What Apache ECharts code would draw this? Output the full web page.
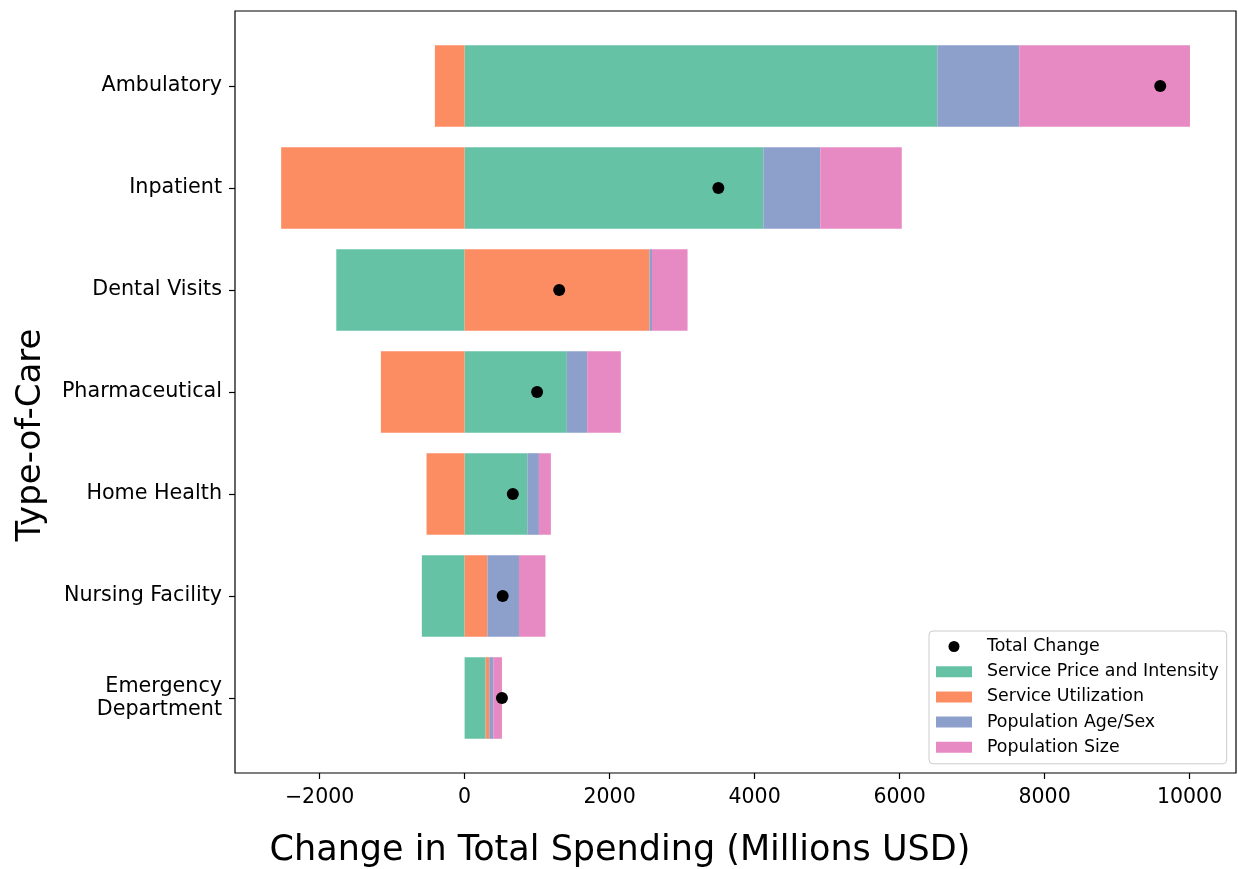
<!DOCTYPE html>
<html>
<head>
<meta charset="utf-8">
<script src="https://cdn.jsdelivr.net/npm/echarts@6/dist/echarts.min.js"></script>
<style>
  html, body { margin: 0; padding: 0; background: #fff; }
  #myChart { width: 1238px; height: 869px; }
</style>
</head>
<body>
<div id="myChart"></div>
<script>
// type-of-care rows, top to bottom
var careTypes = ['Ambulatory', 'Inpatient', 'Dental Visits', 'Pharmaceutical', 'Home Health', 'Nursing Facility', 'Emergency\nDepartment'];

// decomposition of change (millions USD)
var servicePrice = [6520, 4120, -1770, 1410, 865, -590, 290];
var serviceUtil = [-410, -2530, 2550, -1155, -525, 315, 50];
var popAgeSex = [1130, 785, 35, 280, 160, 435, 55];
var popSize = [2355, 1125, 490, 465, 165, 365, 120];
var totalChange = [9595, 3500, 1305, 1000, 665, 525, 515];

var xTicks = [-2000, 0, 2000, 4000, 6000, 8000, 10000];

var seriesNames = ['Service Price and Intensity', 'Service Utilization', 'Population Age/Sex', 'Population Size'];
var colors = ['#66c2a5', '#fc8d62', '#8da0cb', '#e78ac3'];

var font = "'DejaVu Sans', sans-serif";

var chart = echarts.init(document.getElementById('myChart'), null, { renderer: 'canvas' });

function barSeries(name, data, color) {
    return {
        name: name,
        type: 'bar',
        stack: 'total',
        xAxisIndex: 1,
        yAxisIndex: 1,
        barWidth: '80%',
        itemStyle: { color: color, opacity: 1 },
        data: data
    };
}

var scatterData = [];
for (var i = 0; i < totalChange.length; i++) {
    scatterData.push([totalChange[i], i]);
}

var option = {
    animation: false,
    backgroundColor: '#fff',
    grid: [
        // frame (spines)
        { left: 235, top: 11, width: 1001, height: 762, show: true, borderColor: '#000', borderWidth: 1.2, backgroundColor: 'transparent', outerBoundsMode: 'none' },
        // plotting area for the bars
        { left: 235, top: 35, width: 1001, height: 714, outerBoundsMode: 'none' }
    ],
    xAxis: [
        { gridIndex: 0, type: 'value', show: false, min: 0, max: 1 },
        {
            gridIndex: 1,
            type: 'value',
            min: -3167,
            max: 10640,
            offset: 24,
            axisLine: { show: false, onZero: false },
            axisTick: { show: true, length: 6, lineStyle: { color: '#000', width: 1.2 }, customValues: xTicks },
            splitLine: { show: false },
            axisLabel: {
                customValues: xTicks,
                color: '#000',
                fontSize: 20.5,
                fontFamily: font,
                margin: 14,
                formatter: function (v) { return String(v).replace('-', '\u2212'); }
            }
        }
    ],
    yAxis: [
        { gridIndex: 0, type: 'value', show: false, min: 0, max: 1 },
        {
            gridIndex: 1,
            type: 'category',
            inverse: true,
            data: careTypes,
            axisLine: { show: false, onZero: false },
            axisTick: { show: true, alignWithLabel: true, length: 6, lineStyle: { color: '#000', width: 1.2 } },
            splitLine: { show: false },
            axisLabel: {
                color: '#000',
                fontSize: 20.7,
                fontFamily: font,
                margin: 13,
                lineHeight: 23,
                padding: [5, 0, 0, 0],
                align: 'right'
            }
        }
    ],
    legend: {
        orient: 'vertical',
        left: 929,
        top: 631,
        padding: [7, 8, 8, 7],
        itemWidth: 36,
        itemHeight: 11,
        itemGap: 8.2,
        borderColor: '#ccc',
        borderWidth: 1,
        borderRadius: 4,
        backgroundColor: 'rgba(255,255,255,0.8)',
        textStyle: { color: '#000', fontSize: 17.4, fontFamily: font, padding: [0, 0, 0, 10] },
        data: [
            { name: 'Total Change', icon: 'circle', itemStyle: { color: '#000', opacity: 1 } },
            { name: seriesNames[0], icon: 'rect' },
            { name: seriesNames[1], icon: 'rect' },
            { name: seriesNames[2], icon: 'rect' },
            { name: seriesNames[3], icon: 'rect' }
        ]
    },
    graphic: [
        {
            type: 'text',
            x: 620,
            y: 851,
            style: { text: 'Change in Total Spending (Millions USD)', font: '35px ' + font, fill: '#000', align: 'center', verticalAlign: 'middle' }
        },
        {
            type: 'text',
            x: 31,
            y: 435,
            rotation: Math.PI / 2,
            style: { text: 'Type-of-Care', font: '34px ' + font, fill: '#000', align: 'center', verticalAlign: 'middle' }
        }
    ],
    series: [
        barSeries(seriesNames[0], servicePrice, colors[0]),
        barSeries(seriesNames[1], serviceUtil, colors[1]),
        barSeries(seriesNames[2], popAgeSex, colors[2]),
        barSeries(seriesNames[3], popSize, colors[3]),
        {
            name: 'Total Change',
            type: 'scatter',
            xAxisIndex: 1,
            yAxisIndex: 1,
            symbolSize: 12,
            z: 10,
            itemStyle: { color: '#000', opacity: 1 },
            data: scatterData
        }
    ]
};

chart.setOption(option);
</script>
</body>
</html>
